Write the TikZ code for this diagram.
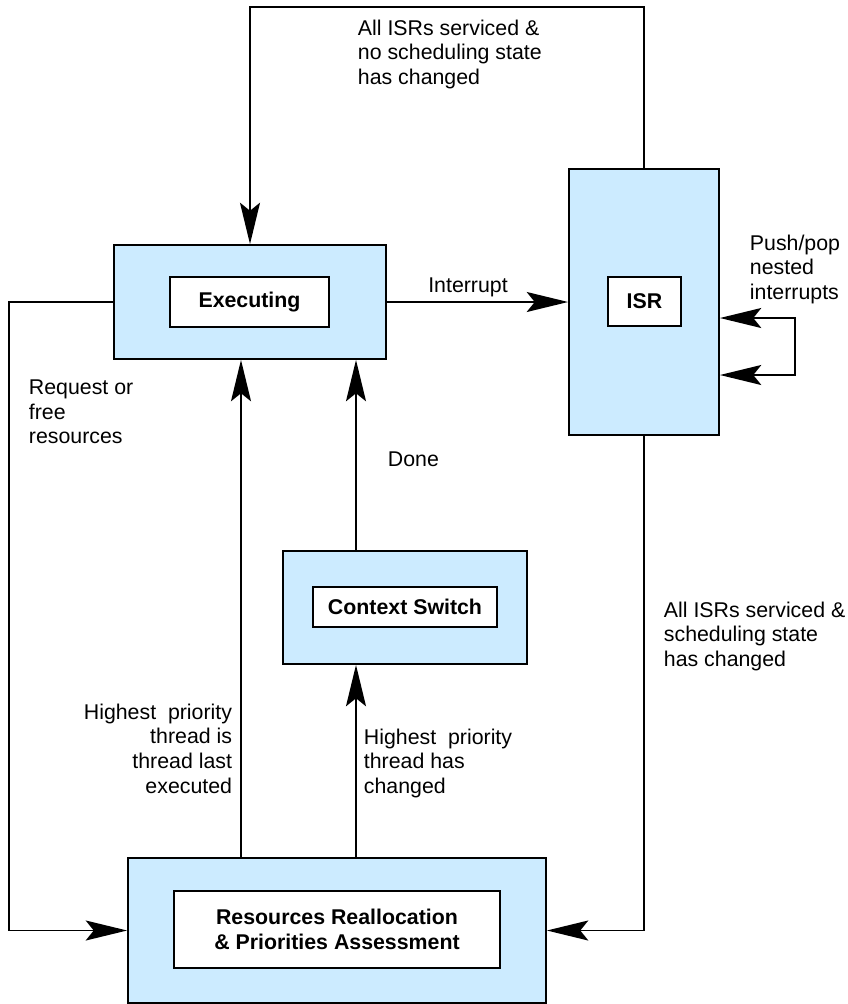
\documentclass[tikz,border=0pt]{standalone}
\usepackage{fontspec}
\setmainfont{Liberation Sans}
\usepackage{tikz}
\usetikzlibrary{arrows.meta}
\definecolor{stateblue}{HTML}{CCEBFF}

\begin{document}
\begin{tikzpicture}[x=0.75pt, y=-0.75pt, line width=1.4pt,
        >={Stealth[length=31pt,width=15pt,inset=6pt]},
        outerbox/.style={draw, fill=stateblue, inner sep=0pt},
        innerbox/.style={draw, fill=white, inner sep=0pt, align=center,
            font=\fontsize{16}{19}\selectfont\bfseries},
        lbl/.style={inner sep=0pt, font=\fontsize{16}{18.4}\selectfont}]
            \useasboundingbox (0,0) rectangle (847,1004);

            % states
            \node[outerbox, minimum width=204pt, minimum height=85.5pt] (Executing) at (250,302) {};
            \node[innerbox, minimum width=119.25pt, minimum height=37.5pt] (ExecutingIn) at (249.5,302) {Executing};
            \node[outerbox, minimum width=112.5pt, minimum height=199.5pt] (ISR) at (644,302) {};
            \node[innerbox, minimum width=54.75pt, minimum height=36.75pt] (ISRIn) at (644.5,301.5) {ISR};
            \node[outerbox, minimum width=183pt, minimum height=84.75pt] (ContextSwitch) at (405,607.5) {};
            \node[innerbox, minimum width=138pt, minimum height=30pt] (ContextSwitchIn) at (405,607) {Context Switch};
            \node[outerbox, minimum width=313.5pt, minimum height=108.75pt] (Reallocation) at (337,930.5) {};
            \node[innerbox, minimum width=244.5pt, minimum height=57.75pt] (ReallocationIn) at (337,929.5) {Resources Reallocation\\\& Priorities Assessment};

            % corners of the loops
            \coordinate (TopRow) at (0,7);
            \coordinate (LeftCol) at (9,0);
            \coordinate (UpCol) at (241,0);
            \coordinate (SwitchCol) at (356,0);
            \coordinate (NestA) at (795,318);
            \coordinate (NestB) at (795,375);

            % labels
            \node[lbl, anchor=north west, align=left] (NoChangeText) at (357,19) {All ISRs serviced \&\\no scheduling state\\has changed};
            \node[lbl] (InterruptText) at (468,287) {Interrupt};
            \node[lbl, anchor=north west, align=left] (NestedText) at (749,234) {Push/pop\\nested\\interrupts};
            \node[lbl, anchor=north west, align=left] (RequestText) at (28,379) {Request or\\free\\resources};
            \node[lbl, anchor=north west] (DoneText) at (387,451) {Done};
            \node[lbl, anchor=north west, align=left] (ChangedText) at (663,601) {All ISRs serviced \&\\scheduling state\\has changed};
            \node[lbl, anchor=north east, align=right] (LastText) at (233,703) {Highest\ \ priority\\thread is\\thread last\\executed};
            \node[lbl, anchor=north west, align=left] (NewText) at (363,728) {Highest\ \ priority\\thread has\\changed};

            % transitions
            \draw[->] (ISR.north) -- (ISR.north |- TopRow) -- (Executing.north |- TopRow) -- (Executing.north);
            \draw[->] (Executing.east) -- (ISR.west);
            \draw[<->] (ISR.east |- NestA) -- (NestA) -- (NestB) -- (ISR.east |- NestB);
            \draw[->] (Executing.west) -- (Executing.west -| LeftCol) -- (LeftCol |- Reallocation.west) -- (Reallocation.west);
            \draw[->] (ISR.south) -- (ISR.south |- Reallocation.east) -- (Reallocation.east);
            \draw[->] (Reallocation.north -| UpCol) -- (Executing.south -| UpCol);
            \draw[->] (Reallocation.north -| SwitchCol) -- (ContextSwitch.south -| SwitchCol);
            \draw[->] (ContextSwitch.north -| SwitchCol) -- (Executing.south -| SwitchCol);
        \end{tikzpicture}
\end{document}
